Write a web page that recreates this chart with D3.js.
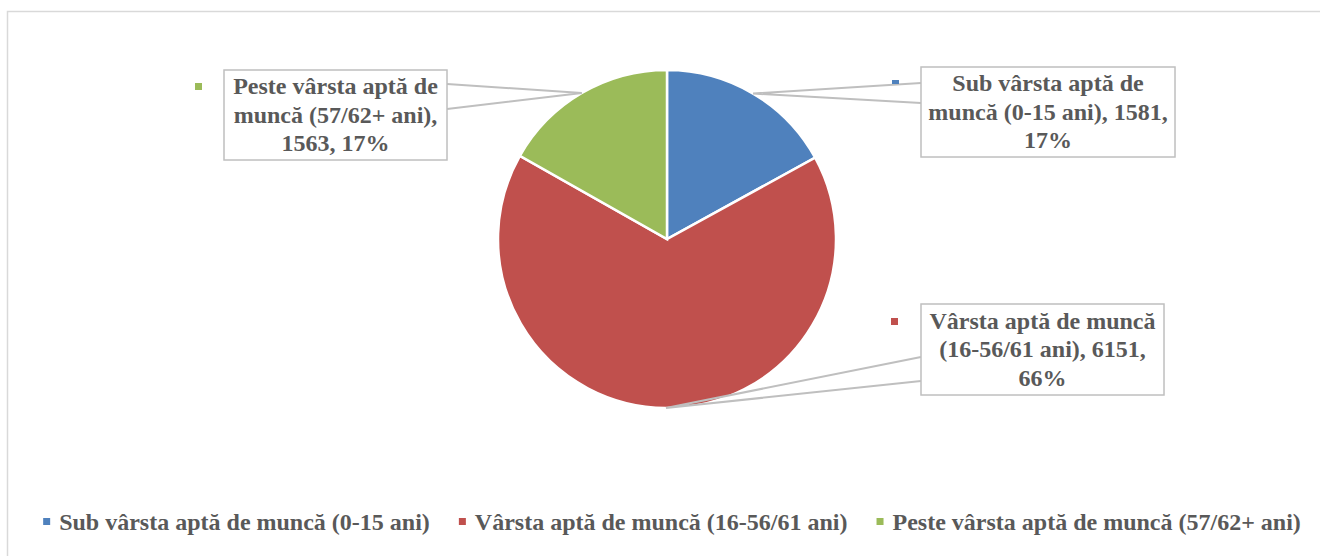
<!DOCTYPE html>
<html>
<head>
<meta charset="utf-8">
<script src="https://cdn.jsdelivr.net/npm/d3@7"></script>
<style>
  body { margin: 0; background: #fff; }
  svg { display: block; }
  text { font-family: "Liberation Serif", "Times New Roman", serif; font-weight: bold; fill: #595959; }
</style>
</head>
<body>
<svg id="chart" width="1320" height="556"></svg>
<script>
// data
const categories = ["Sub vârsta aptă de muncă (0-15 ani)", "Vârsta aptă de muncă (16-56/61 ani)", "Peste vârsta aptă de muncă (57/62+ ani)"];
const values = [1581, 6151, 1563];
const colors = ["#4f81bd", "#c0504d", "#9bbb59"];
// data label text lines as shown in the boxes
const labelLines = [
  ["Sub vârsta aptă de", "muncă (0-15 ani), 1581,", "17%"],
  ["Vârsta aptă de muncă", "(16-56/61 ani), 6151,", "66%"],
  ["Peste vârsta aptă de", "muncă (57/62+ ani),", "1563, 17%"]
];

const W = 1320, H = 556;
const cx = 667, cy = 239, radius = 169;
const svg = d3.select("#chart");

// chart border
svg.append("rect").attr("x", 7.5).attr("y", 11.5).attr("width", W).attr("height", H)
  .attr("fill", "none").attr("stroke", "#d9d9d9").attr("stroke-width", 1.5);

const pie = d3.pie().sort(null).value(d => d);
const arcs = pie(values);
const arcGen = d3.arc().innerRadius(0).outerRadius(radius);

const g = svg.append("g").attr("transform", `translate(${cx},${cy})`);
g.selectAll(".slice")
  .data(arcs)
  .enter()
  .append("path")
  .attr("d", arcGen)
  .attr("fill", (d, i) => colors[i])
  .attr("stroke", "white")
  .attr("stroke-width", 2.5);

// label boxes layout (x, y, w, h, anchor points for callout lines, key square)
const boxes = [
  { x: 921, y: 67, w: 254, h: 90, a1: [921, 83], a2: [921, 103], key: [892, 80, 7, 4] },
  { x: 921, y: 304, w: 243, h: 91, a1: [921, 357], a2: [921, 381], key: [891, 318, 7, 7] },
  { x: 224, y: 70, w: 223, h: 90, a1: [447, 84], a2: [447, 109], key: [195, 83, 7, 7] }
];

const fontSize = 24, lineH = 28.5;

arcs.forEach((d, i) => {
  const b = boxes[i];
  const mid = (d.startAngle + d.endAngle) / 2;
  const tip = [cx + Math.sin(mid) * radius, cy - Math.cos(mid) * radius];
  svg.append("path")
    .attr("d", d3.line()([b.a1, tip, b.a2]))
    .attr("fill", "none")
    .attr("stroke", "#bfbfbf")
    .attr("stroke-width", 2);
  svg.append("rect")
    .attr("x", b.x).attr("y", b.y).attr("width", b.w).attr("height", b.h)
    .attr("fill", "white").attr("stroke", "#bfbfbf").attr("stroke-width", 1.5);
  svg.append("rect")
    .attr("x", b.key[0]).attr("y", b.key[1]).attr("width", b.key[2]).attr("height", b.key[3])
    .attr("fill", colors[i]);
  const t = svg.append("text")
    .attr("text-anchor", "middle")
    .attr("font-size", fontSize);
  const lines = labelLines[i];
  const top = b.y + b.h / 2 - (lines.length - 1) * lineH / 2;
  lines.forEach((ln, j) => {
    t.append("tspan").attr("x", b.x + b.w / 2).attr("y", top + j * lineH).attr("dy", "0.33em").text(ln);
  });
});

// legend
const legend = svg.append("g");
const items = legend.selectAll(".item").data(categories).enter().append("g");
items.append("rect").attr("width", 7).attr("height", 7).attr("y", -4).attr("fill", (d, i) => colors[i]);
items.append("text").attr("x", 16).attr("dy", "0.33em").attr("font-size", fontSize).text(d => d);
const widths = [];
items.each(function () { widths.push(16 + d3.select(this).select("text").node().getComputedTextLength()); });
const gap = 29;
const total = d3.sum(widths) + gap * (widths.length - 1);
let xPos = 672 - total / 2;
items.attr("transform", (d, i) => {
  const x = xPos; xPos += widths[i] + gap;
  return `translate(${x},522)`;
});
</script>
</body>
</html>
